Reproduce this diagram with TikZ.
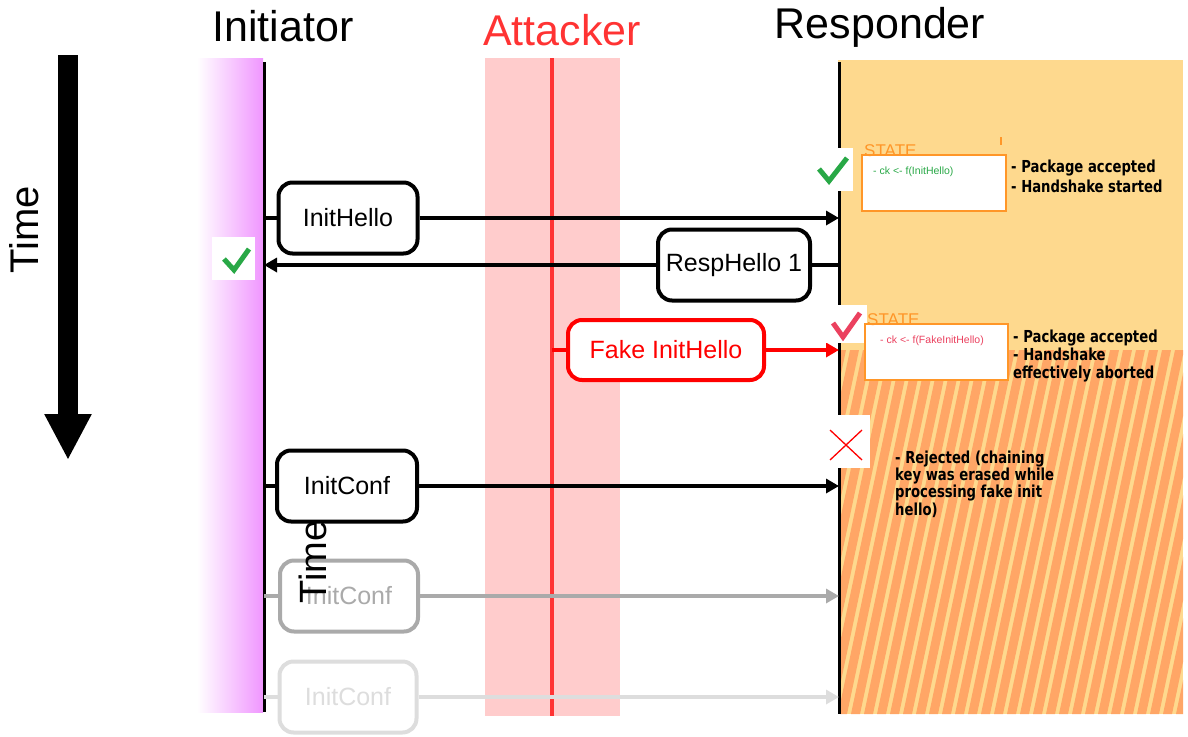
\documentclass[tikz,border=0pt]{standalone}
\usepackage{fontspec}
\setmainfont{Liberation Sans}
\newfontfamily\notefont[FakeStretch=0.8]{DejaVu Sans}
\usetikzlibrary{arrows.meta}
\definecolor{respbg}{RGB}{254,217,142}
\definecolor{respstripe}{RGB}{255,166,102}
\definecolor{attbg}{RGB}{255,204,204}
\definecolor{attline}{RGB}{255,51,51}
\definecolor{initbg}{RGB}{240,150,255}
\definecolor{okgreen}{RGB}{40,168,70}
\definecolor{badred}{RGB}{235,65,95}
\definecolor{stateorange}{RGB}{255,150,40}
\definecolor{fade}{RGB}{170,170,170}
\definecolor{fainter}{RGB}{221,221,221}
\begin{document}
\begin{tikzpicture}[x=1pt,y=-1pt,
    msgbox/.style={draw, line width=4pt, rounded corners=14pt, fill=white,
      font=\fontsize{25}{30}\selectfont, minimum height=71pt},
    msg/.style={line width=4.5pt},
    msgarrow/.style={msg, -{Triangle[length=13pt,width=14pt]}},
    lifeline/.style={line width=3pt},
    title/.style={font=\fontsize{43}{50}\selectfont, anchor=base},
    statebox/.style={draw=stateorange, line width=1.2pt, fill=white,
      minimum width=144pt, minimum height=56pt, inner sep=0pt},
    statelabel/.style={text=stateorange, font=\fontsize{17}{20}\selectfont,
      inner sep=0pt, anchor=base west},
    stateline/.style={anchor=west, inner sep=0pt, font=\fontsize{10.5}{12}\selectfont},
    note/.style={font=\notefont\bfseries\fontsize{16.5}{20}\selectfont,
      align=left, inner sep=0pt, anchor=north west},
    tick/.style={line width=5pt, okgreen}
  ]
  \useasboundingbox (0,0) rectangle (1188,736);

  \fill[left color=white, right color=initbg] (197,58) rectangle (263,712);
  \fill[attbg] (485,58) rectangle (620,716);
  \fill[respbg] (838,60) rectangle (1183,714);
  \begin{scope}
    \clip (840,350) rectangle (1183,714);
    \foreach \i in {0,...,34}
    {
      \fill[respstripe] (760+\i*13,714) -- ++(9,0) -- ++(77,-364) -- ++(-9,0) -- cycle;
    }
  \end{scope}

  \coordinate (itop) at (264,62);
  \coordinate (ibot) at (264,712);
  \coordinate (atop) at (552,58);
  \coordinate (abot) at (552,716);
  \coordinate (rtop) at (839,62);
  \coordinate (rbot) at (839,714);
  \draw[lifeline] (itop) -- (ibot);
  \draw[lifeline, attline, line width=4pt] (atop) -- (abot);
  \draw[lifeline] (rtop) -- (rbot);

  \node[title] (tinit) at (283,41) {Initiator};
  \node[title, text=attline] (tatt) at (562,45) {Attacker};
  \node[title] (tresp) at (880,38) {Responder};

  \coordinate (tstart) at (68,55);
  \coordinate (tend) at (68,460);
  \draw[line width=20pt, -{Triangle[length=46pt,width=44pt]}] (tstart) -- (tend);
  \node[rotate=90, font=\fontsize{40}{44}\selectfont] (tlabel) at (24,230) {Time};

  \node[msgbox, minimum width=139pt] (ihello) at (348,218) {InitHello};
  \draw[msg] (ihello.west -| itop) -- (ihello.west);
  \draw[msgarrow] (ihello.east) -- (ihello.east -| rtop);

  \node[msgbox, minimum width=152pt] (rhello) at (734,265) {RespHello 1};
  \draw[msg] (rhello.east -| rtop) -- (rhello.east);
  \draw[msgarrow] (rhello.west) -- (rhello.west -| itop);

  \node[msgbox, draw=red, text=red, minimum width=196pt, minimum height=60pt] (fhello) at (666,350) {Fake InitHello};
  \draw[msg, red] (fhello.west -| atop) -- (fhello.west);
  \draw[msgarrow, red] (fhello.east) -- (fhello.east -| rtop);

  \node[msgbox, minimum width=140pt] (iconf) at (347,486) {InitConf};
  \draw[msg] (iconf.west -| itop) -- (iconf.west);
  \draw[msgarrow] (iconf.east) -- (iconf.east -| rtop);

  \node[msgbox, draw=fade, text=fade, minimum width=138pt] (iconfb) at (349,596) {InitConf};
  \draw[msg, fade] (iconfb.west -| itop) -- (iconfb.west);
  \draw[msgarrow, fade] (iconfb.east) -- (iconfb.east -| rtop);

  \node[msgbox, draw=fainter, text=fainter, minimum width=137pt] (iconfc) at (348,697) {InitConf};
  \draw[msg, fainter] (iconfc.west -| itop) -- (iconfc.west);
  \draw[msgarrow, fainter] (iconfc.east) -- (iconfc.east -| rtop);

  \node[rotate=90, font=\fontsize{38}{40}\selectfont] (tghost) at (313,562) {Time};

  \fill[white] (212,237) rectangle (255,280);
  \draw[tick] (224,259) -- (234,270) -- (249,249);
  \fill[white] (817,148) rectangle (853,191);
  \draw[tick] (819,169) -- (829,181) -- (847,158);
  \fill[white] (826,305) rectangle (867,343);
  \draw[tick, badred] (833,323) -- (843,337) -- (860,313);
  \fill[white] (825,415) rectangle (870,468);
  \draw[red, line width=1.3pt] (830,430) -- (862,460) (862,430) -- (830,460);

  \node[statebox] (state1) at (934,183) {};
  \node[statelabel] (slabel1) at (864,156) {STATE};
  \node[stateline, text=okgreen] (ck1) at (873,172) {- ck <- f(InitHello)};
  \draw[stateorange, line width=2pt] (1001,137) -- (1001,145);

  \node[statebox, minimum width=143pt] (state2) at (936.5,352) {};
  \node[statelabel] (slabel2) at (867,325) {STATE};
  \node[stateline, text=badred] (ck2) at (880,341) {- ck <- f(FakeInitHello)};

  \node[note] (note1) at (1011,160) {- Package accepted\\- Handshake started};
  \node[note, font=\notefont\bfseries\fontsize{16.5}{18}\selectfont] (note2) at (1013,330) {- Package accepted\\- Handshake\\effectively aborted};
  \node[note, font=\notefont\bfseries\fontsize{16.5}{16}\selectfont] (note3) at (895,451) {- Rejected (chaining\\key was erased while\\processing fake init\\hello)};
\end{tikzpicture}
\end{document}
